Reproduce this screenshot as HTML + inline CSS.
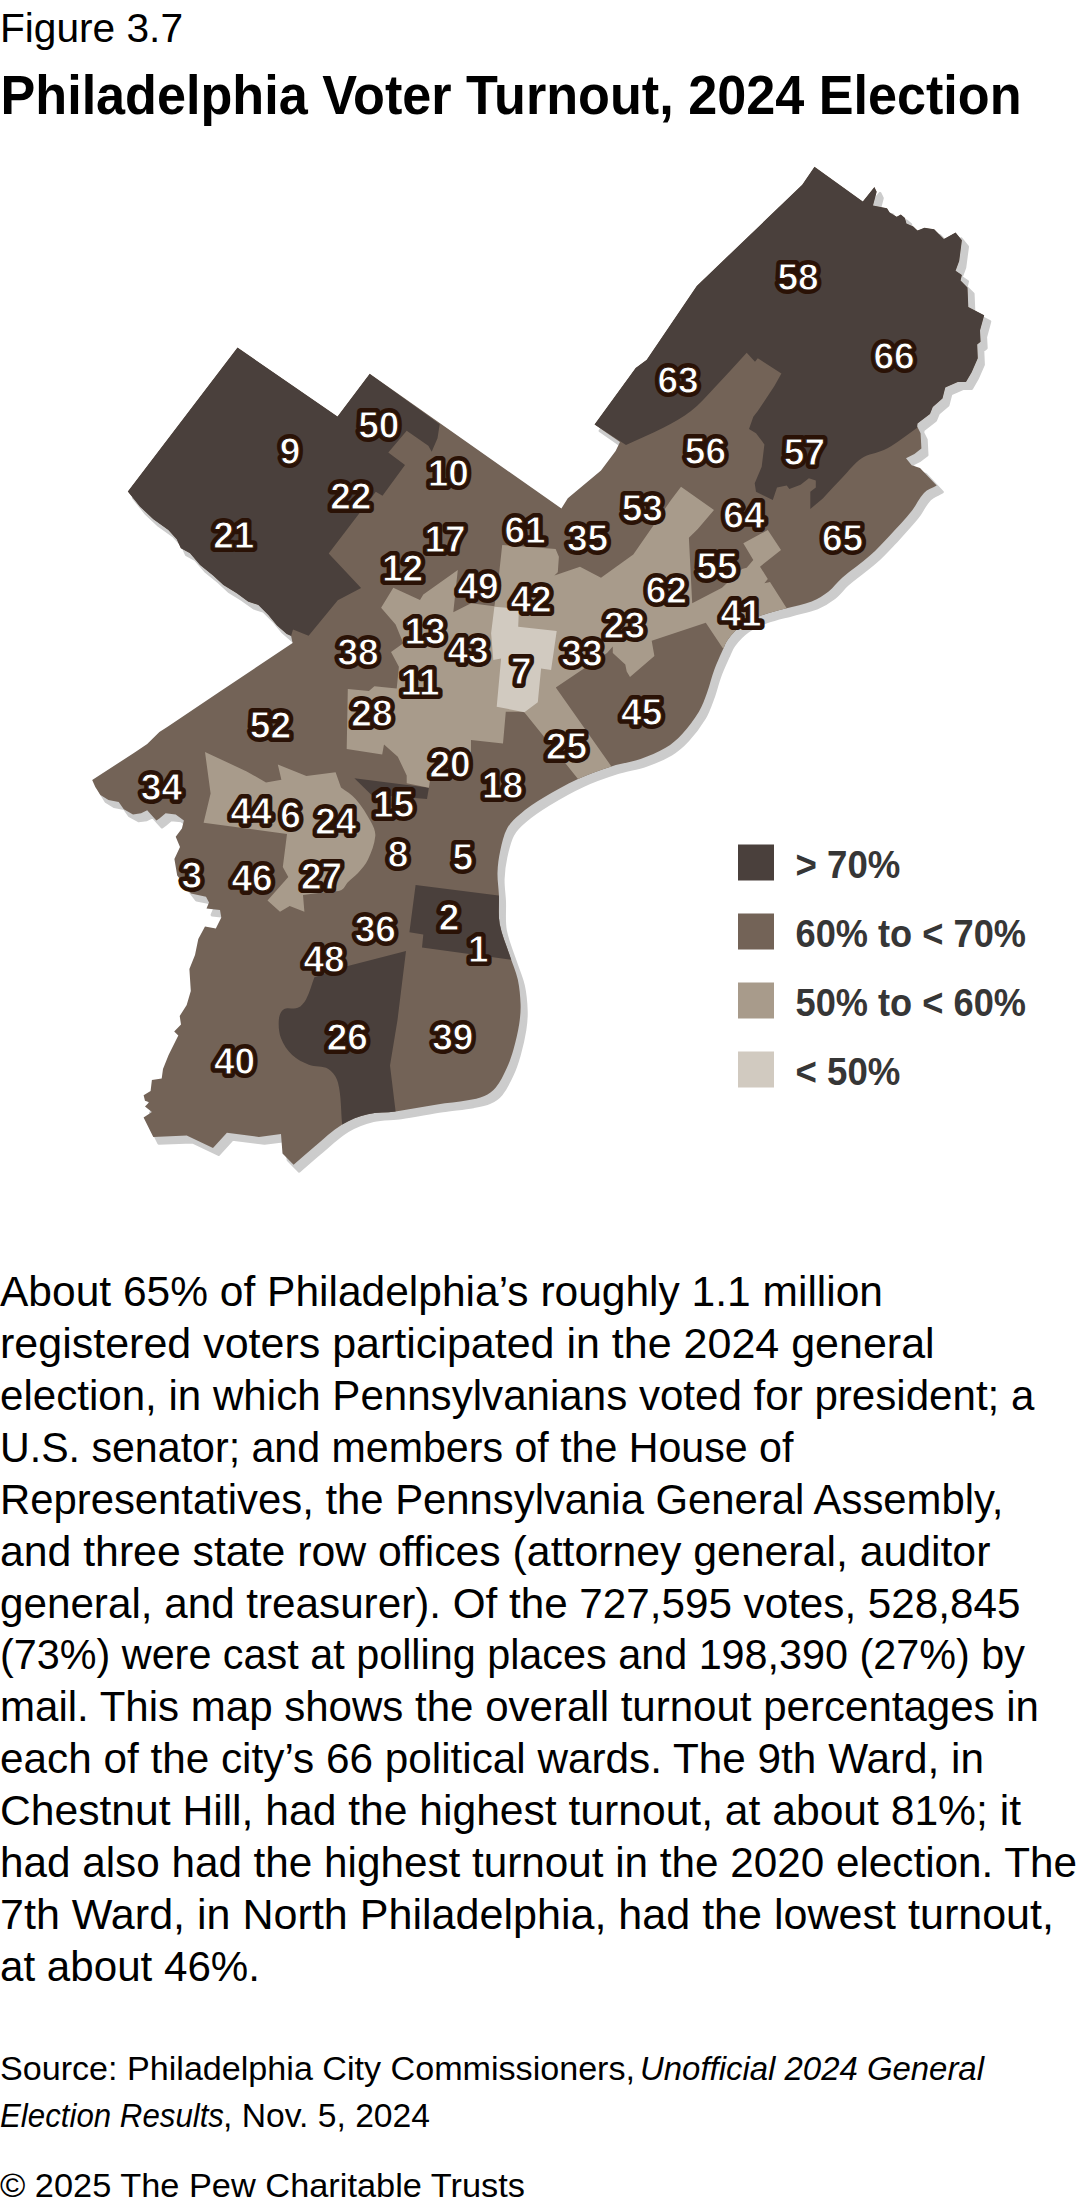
<!DOCTYPE html>
<html lang="en"><head><meta charset="utf-8"><title>Philadelphia Voter Turnout, 2024 Election</title>
<style>
html,body{margin:0;padding:0;background:#fff;}
body{width:1080px;height:2208px;position:relative;overflow:hidden;font-family:"Liberation Sans",sans-serif;}
svg{position:absolute;left:0;top:0;display:block;}
text{font-family:"Liberation Sans",sans-serif;}
.lb{font-weight:bold;font-size:37px;text-anchor:middle;}
.lb .o{fill:#2a1206;stroke:#2a1206;stroke-width:8px;stroke-linejoin:round;stroke-linecap:round;}
.lb .i{fill:#fff;stroke:#2a1206;stroke-width:1px;stroke-linejoin:round;}
.lg{font-weight:bold;font-size:38.5px;fill:#363636;}
.bd{font-size:42px;fill:#000;}
.sr{font-size:32.5px;fill:#000;}
</style></head><body>
<svg width="1080" height="2208" viewBox="0 0 1080 2208">

<path d="M127.8 491.4 L237.5 347.5 L337.5 416.5 L369.7 373.8 L561.4 508.6 L567.8 498.3 L601.0 470.6 L615.6 451.0 L620.0 442.0 L594.5 424.4 L635.6 368.0 L646.7 359.7 L696.7 286.0 L802.2 184.7 L814.5 166.7 L862.8 201.4 L874.4 187.0 L876.7 191.7 L873.0 205.6 L887.0 208.3 L889.7 212.5 L896.7 216.7 L900.8 214.4 L905.0 218.0 L906.4 223.6 L913.3 226.4 L917.5 230.6 L924.4 227.8 L934.2 229.2 L943.9 238.9 L955.6 232.5 L961.9 240.3 L959.2 261.0 L955.6 270.8 L961.9 275.0 L960.6 280.6 L967.5 287.5 L968.3 307.0 L984.2 315.3 L980.0 330.6 L980.6 341.7 L977.2 344.4 L977.8 358.3 L971.7 372.2 L966.0 382.0 L957.8 382.0 L945.3 387.5 L942.5 398.6 L932.8 407.0 L930.0 413.9 L917.5 423.6 L917.2 426.4 L920.6 433.3 L921.4 448.6 L914.4 454.0 L906.0 458.3 L911.7 465.3 L920.0 468.0 L936.7 485.6 C932.5 488.1 927.4 489.5 924.0 493.0 C918.9 498.2 916.3 505.3 911.7 511.0 C904.7 519.7 897.0 527.8 889.4 536.0 C883.1 542.7 876.9 549.5 870.0 555.6 C861.1 563.5 851.2 570.0 842.2 577.8 C837.2 582.1 833.5 587.7 828.3 591.7 C823.2 595.6 817.7 599.0 811.7 601.4 C803.7 604.6 795.0 606.0 786.7 608.3 C778.4 610.6 769.8 612.3 761.7 615.3 C754.9 617.9 748.1 620.8 742.2 625.0 C736.8 628.8 732.3 633.7 728.3 638.9 C725.6 642.3 724.3 646.6 722.5 650.6 C719.6 657.0 716.6 663.4 714.2 670.0 C711.5 677.3 709.9 684.9 707.2 692.2 C704.8 698.8 702.5 705.6 698.9 711.7 C694.1 719.6 688.5 727.1 682.2 733.9 C677.3 739.2 671.8 744.1 665.6 747.8 C657.8 752.5 649.2 755.9 640.6 758.9 C631.1 762.2 621.0 763.3 611.4 766.4 C600.1 770.0 588.8 773.9 578.0 778.9 C566.0 784.4 554.5 790.9 543.3 797.8 C535.1 802.8 527.0 808.2 519.7 814.4 C514.9 818.4 510.1 822.8 507.2 828.3 C503.5 835.2 502.0 843.0 500.3 850.6 C498.7 857.9 497.7 865.3 497.5 872.8 C497.3 880.2 498.6 887.6 498.9 895.0 C499.3 904.6 498.0 914.4 499.7 923.9 C501.6 934.4 506.1 944.3 509.4 954.4 C512.1 962.8 515.9 970.8 517.8 979.4 C519.6 987.6 520.3 996.0 520.6 1004.4 C520.8 1010.9 520.2 1017.5 519.2 1023.9 C517.9 1032.3 515.9 1040.7 513.6 1048.9 C511.7 1055.5 509.6 1062.1 506.7 1068.3 C503.6 1075.1 500.3 1082.0 495.6 1087.8 C492.7 1091.4 488.6 1094.1 484.4 1096.0 C479.2 1098.3 473.4 1099.3 467.8 1100.3 C457.7 1102.1 447.4 1102.8 437.2 1104.4 C423.3 1106.5 409.5 1109.4 395.6 1111.4 C386.4 1112.7 376.8 1112.0 367.8 1114.2 C358.9 1116.4 350.0 1119.6 342.2 1124.4 C332.1 1130.6 323.5 1139.1 314.4 1146.7 C307.3 1152.6 300.5 1158.7 293.6 1164.7 L282.5 1153.6 L281.0 1134.0 L258.9 1136.9 L226.9 1132.8 L213.0 1148.0 L186.7 1135.6 L153.3 1136.9 L143.6 1117.5 L151.9 1111.9 L145.0 1106.4 L149.2 1102.2 L145.0 1100.8 L143.6 1095.3 L150.6 1091.0 L151.9 1080.0 L161.7 1078.6 L163.0 1068.9 L168.6 1055.0 L178.3 1035.6 L174.2 1031.4 L181.0 1024.4 L179.7 1016.0 L186.7 1005.0 L190.8 991.0 L189.4 968.9 L195.0 955.0 L198.3 939.0 L205.0 926.5 L215.8 928.5 L221.3 917.5 L220.0 910.0 L206.5 908.5 L209.0 902.5 L206.0 896.7 L191.0 893.6 L177.2 875.6 L174.4 858.9 L180.0 847.0 L175.7 836.8 L181.9 828.6 L183.9 820.5 L175.7 814.4 L165.6 813.3 L159.4 818.4 L156.4 820.5 L152.3 816.0 L147.2 810.3 L141.1 813.3 L133.0 814.4 L123.8 809.3 L118.7 802.1 L108.5 800.1 L100.4 795.0 L95.3 786.9 L92.2 780.1 L135.0 752.2 L147.2 744.1 L159.4 731.9 L167.6 726.8 L218.9 692.2 L292.6 643.0 L291.1 635.9 L286.7 634.0 L276.9 625.5 L268.3 615.0 L258.3 605.0 L248.3 601.7 L236.7 593.3 L223.3 585.0 L213.3 575.8 L200.0 565.0 L190.0 553.3 L180.8 548.3 L176.7 539.2 L168.3 530.0 L153.3 519.2 L140.0 506.7Z" fill="#cccccc" stroke="#cccccc" stroke-width="3" stroke-linejoin="round" transform="translate(5.6,6.4)"/>
<path d="M127.8 491.4 L237.5 347.5 L337.5 416.5 L369.7 373.8 L561.4 508.6 L567.8 498.3 L601.0 470.6 L615.6 451.0 L620.0 442.0 L594.5 424.4 L635.6 368.0 L646.7 359.7 L696.7 286.0 L802.2 184.7 L814.5 166.7 L862.8 201.4 L874.4 187.0 L876.7 191.7 L873.0 205.6 L887.0 208.3 L889.7 212.5 L896.7 216.7 L900.8 214.4 L905.0 218.0 L906.4 223.6 L913.3 226.4 L917.5 230.6 L924.4 227.8 L934.2 229.2 L943.9 238.9 L955.6 232.5 L961.9 240.3 L959.2 261.0 L955.6 270.8 L961.9 275.0 L960.6 280.6 L967.5 287.5 L968.3 307.0 L984.2 315.3 L980.0 330.6 L980.6 341.7 L977.2 344.4 L977.8 358.3 L971.7 372.2 L966.0 382.0 L957.8 382.0 L945.3 387.5 L942.5 398.6 L932.8 407.0 L930.0 413.9 L917.5 423.6 L917.2 426.4 L920.6 433.3 L921.4 448.6 L914.4 454.0 L906.0 458.3 L911.7 465.3 L920.0 468.0 L936.7 485.6 C932.5 488.1 927.4 489.5 924.0 493.0 C918.9 498.2 916.3 505.3 911.7 511.0 C904.7 519.7 897.0 527.8 889.4 536.0 C883.1 542.7 876.9 549.5 870.0 555.6 C861.1 563.5 851.2 570.0 842.2 577.8 C837.2 582.1 833.5 587.7 828.3 591.7 C823.2 595.6 817.7 599.0 811.7 601.4 C803.7 604.6 795.0 606.0 786.7 608.3 C778.4 610.6 769.8 612.3 761.7 615.3 C754.9 617.9 748.1 620.8 742.2 625.0 C736.8 628.8 732.3 633.7 728.3 638.9 C725.6 642.3 724.3 646.6 722.5 650.6 C719.6 657.0 716.6 663.4 714.2 670.0 C711.5 677.3 709.9 684.9 707.2 692.2 C704.8 698.8 702.5 705.6 698.9 711.7 C694.1 719.6 688.5 727.1 682.2 733.9 C677.3 739.2 671.8 744.1 665.6 747.8 C657.8 752.5 649.2 755.9 640.6 758.9 C631.1 762.2 621.0 763.3 611.4 766.4 C600.1 770.0 588.8 773.9 578.0 778.9 C566.0 784.4 554.5 790.9 543.3 797.8 C535.1 802.8 527.0 808.2 519.7 814.4 C514.9 818.4 510.1 822.8 507.2 828.3 C503.5 835.2 502.0 843.0 500.3 850.6 C498.7 857.9 497.7 865.3 497.5 872.8 C497.3 880.2 498.6 887.6 498.9 895.0 C499.3 904.6 498.0 914.4 499.7 923.9 C501.6 934.4 506.1 944.3 509.4 954.4 C512.1 962.8 515.9 970.8 517.8 979.4 C519.6 987.6 520.3 996.0 520.6 1004.4 C520.8 1010.9 520.2 1017.5 519.2 1023.9 C517.9 1032.3 515.9 1040.7 513.6 1048.9 C511.7 1055.5 509.6 1062.1 506.7 1068.3 C503.6 1075.1 500.3 1082.0 495.6 1087.8 C492.7 1091.4 488.6 1094.1 484.4 1096.0 C479.2 1098.3 473.4 1099.3 467.8 1100.3 C457.7 1102.1 447.4 1102.8 437.2 1104.4 C423.3 1106.5 409.5 1109.4 395.6 1111.4 C386.4 1112.7 376.8 1112.0 367.8 1114.2 C358.9 1116.4 350.0 1119.6 342.2 1124.4 C332.1 1130.6 323.5 1139.1 314.4 1146.7 C307.3 1152.6 300.5 1158.7 293.6 1164.7 L282.5 1153.6 L281.0 1134.0 L258.9 1136.9 L226.9 1132.8 L213.0 1148.0 L186.7 1135.6 L153.3 1136.9 L143.6 1117.5 L151.9 1111.9 L145.0 1106.4 L149.2 1102.2 L145.0 1100.8 L143.6 1095.3 L150.6 1091.0 L151.9 1080.0 L161.7 1078.6 L163.0 1068.9 L168.6 1055.0 L178.3 1035.6 L174.2 1031.4 L181.0 1024.4 L179.7 1016.0 L186.7 1005.0 L190.8 991.0 L189.4 968.9 L195.0 955.0 L198.3 939.0 L205.0 926.5 L215.8 928.5 L221.3 917.5 L220.0 910.0 L206.5 908.5 L209.0 902.5 L206.0 896.7 L191.0 893.6 L177.2 875.6 L174.4 858.9 L180.0 847.0 L175.7 836.8 L181.9 828.6 L183.9 820.5 L175.7 814.4 L165.6 813.3 L159.4 818.4 L156.4 820.5 L152.3 816.0 L147.2 810.3 L141.1 813.3 L133.0 814.4 L123.8 809.3 L118.7 802.1 L108.5 800.1 L100.4 795.0 L95.3 786.9 L92.2 780.1 L135.0 752.2 L147.2 744.1 L159.4 731.9 L167.6 726.8 L218.9 692.2 L292.6 643.0 L291.1 635.9 L286.7 634.0 L276.9 625.5 L268.3 615.0 L258.3 605.0 L248.3 601.7 L236.7 593.3 L223.3 585.0 L213.3 575.8 L200.0 565.0 L190.0 553.3 L180.8 548.3 L176.7 539.2 L168.3 530.0 L153.3 519.2 L140.0 506.7Z" fill="#736357"/>
<clipPath id="c"><path d="M127.8 491.4 L237.5 347.5 L337.5 416.5 L369.7 373.8 L561.4 508.6 L567.8 498.3 L601.0 470.6 L615.6 451.0 L620.0 442.0 L594.5 424.4 L635.6 368.0 L646.7 359.7 L696.7 286.0 L802.2 184.7 L814.5 166.7 L862.8 201.4 L874.4 187.0 L876.7 191.7 L873.0 205.6 L887.0 208.3 L889.7 212.5 L896.7 216.7 L900.8 214.4 L905.0 218.0 L906.4 223.6 L913.3 226.4 L917.5 230.6 L924.4 227.8 L934.2 229.2 L943.9 238.9 L955.6 232.5 L961.9 240.3 L959.2 261.0 L955.6 270.8 L961.9 275.0 L960.6 280.6 L967.5 287.5 L968.3 307.0 L984.2 315.3 L980.0 330.6 L980.6 341.7 L977.2 344.4 L977.8 358.3 L971.7 372.2 L966.0 382.0 L957.8 382.0 L945.3 387.5 L942.5 398.6 L932.8 407.0 L930.0 413.9 L917.5 423.6 L917.2 426.4 L920.6 433.3 L921.4 448.6 L914.4 454.0 L906.0 458.3 L911.7 465.3 L920.0 468.0 L936.7 485.6 C932.5 488.1 927.4 489.5 924.0 493.0 C918.9 498.2 916.3 505.3 911.7 511.0 C904.7 519.7 897.0 527.8 889.4 536.0 C883.1 542.7 876.9 549.5 870.0 555.6 C861.1 563.5 851.2 570.0 842.2 577.8 C837.2 582.1 833.5 587.7 828.3 591.7 C823.2 595.6 817.7 599.0 811.7 601.4 C803.7 604.6 795.0 606.0 786.7 608.3 C778.4 610.6 769.8 612.3 761.7 615.3 C754.9 617.9 748.1 620.8 742.2 625.0 C736.8 628.8 732.3 633.7 728.3 638.9 C725.6 642.3 724.3 646.6 722.5 650.6 C719.6 657.0 716.6 663.4 714.2 670.0 C711.5 677.3 709.9 684.9 707.2 692.2 C704.8 698.8 702.5 705.6 698.9 711.7 C694.1 719.6 688.5 727.1 682.2 733.9 C677.3 739.2 671.8 744.1 665.6 747.8 C657.8 752.5 649.2 755.9 640.6 758.9 C631.1 762.2 621.0 763.3 611.4 766.4 C600.1 770.0 588.8 773.9 578.0 778.9 C566.0 784.4 554.5 790.9 543.3 797.8 C535.1 802.8 527.0 808.2 519.7 814.4 C514.9 818.4 510.1 822.8 507.2 828.3 C503.5 835.2 502.0 843.0 500.3 850.6 C498.7 857.9 497.7 865.3 497.5 872.8 C497.3 880.2 498.6 887.6 498.9 895.0 C499.3 904.6 498.0 914.4 499.7 923.9 C501.6 934.4 506.1 944.3 509.4 954.4 C512.1 962.8 515.9 970.8 517.8 979.4 C519.6 987.6 520.3 996.0 520.6 1004.4 C520.8 1010.9 520.2 1017.5 519.2 1023.9 C517.9 1032.3 515.9 1040.7 513.6 1048.9 C511.7 1055.5 509.6 1062.1 506.7 1068.3 C503.6 1075.1 500.3 1082.0 495.6 1087.8 C492.7 1091.4 488.6 1094.1 484.4 1096.0 C479.2 1098.3 473.4 1099.3 467.8 1100.3 C457.7 1102.1 447.4 1102.8 437.2 1104.4 C423.3 1106.5 409.5 1109.4 395.6 1111.4 C386.4 1112.7 376.8 1112.0 367.8 1114.2 C358.9 1116.4 350.0 1119.6 342.2 1124.4 C332.1 1130.6 323.5 1139.1 314.4 1146.7 C307.3 1152.6 300.5 1158.7 293.6 1164.7 L282.5 1153.6 L281.0 1134.0 L258.9 1136.9 L226.9 1132.8 L213.0 1148.0 L186.7 1135.6 L153.3 1136.9 L143.6 1117.5 L151.9 1111.9 L145.0 1106.4 L149.2 1102.2 L145.0 1100.8 L143.6 1095.3 L150.6 1091.0 L151.9 1080.0 L161.7 1078.6 L163.0 1068.9 L168.6 1055.0 L178.3 1035.6 L174.2 1031.4 L181.0 1024.4 L179.7 1016.0 L186.7 1005.0 L190.8 991.0 L189.4 968.9 L195.0 955.0 L198.3 939.0 L205.0 926.5 L215.8 928.5 L221.3 917.5 L220.0 910.0 L206.5 908.5 L209.0 902.5 L206.0 896.7 L191.0 893.6 L177.2 875.6 L174.4 858.9 L180.0 847.0 L175.7 836.8 L181.9 828.6 L183.9 820.5 L175.7 814.4 L165.6 813.3 L159.4 818.4 L156.4 820.5 L152.3 816.0 L147.2 810.3 L141.1 813.3 L133.0 814.4 L123.8 809.3 L118.7 802.1 L108.5 800.1 L100.4 795.0 L95.3 786.9 L92.2 780.1 L135.0 752.2 L147.2 744.1 L159.4 731.9 L167.6 726.8 L218.9 692.2 L292.6 643.0 L291.1 635.9 L286.7 634.0 L276.9 625.5 L268.3 615.0 L258.3 605.0 L248.3 601.7 L236.7 593.3 L223.3 585.0 L213.3 575.8 L200.0 565.0 L190.0 553.3 L180.8 548.3 L176.7 539.2 L168.3 530.0 L153.3 519.2 L140.0 506.7Z"/></clipPath><g clip-path="url(#c)">
<path d="M127.8 491.4 L237.5 347.5 L337.5 416.5 L369.7 373.8 L439.7 424.2 L437.5 438.3 L431.7 451.7 L428.3 445.8 L406.7 430.8 L388.3 452.5 L405.0 465.0 L382.5 495.8 L375.8 491.7 L328.7 553.5 L361.1 588.0 L337.8 600.3 L308.6 635.7 L293.0 629.4 L291.1 635.9 L286.7 634.0 L276.9 625.5 L268.3 615.0 L258.3 605.0 L248.3 601.7 L236.7 593.3 L223.3 585.0 L213.3 575.8 L200.0 565.0 L190.0 553.3 L180.8 548.3 L176.7 539.2 L168.3 530.0 L153.3 519.2 L140.0 506.7Z" fill="#4a403c"/>
<path d="M594.5 424.4 L635.6 368.0 L646.7 359.7 L696.7 286.0 L802.2 184.7 L814.5 166.7 L862.8 201.4 L874.4 187.0 L876.7 191.7 L873.0 205.6 L887.0 208.3 L889.7 212.5 L896.7 216.7 L900.8 214.4 L905.0 218.0 L906.4 223.6 L913.3 226.4 L917.5 230.6 L924.4 227.8 L934.2 229.2 L943.9 238.9 L955.6 232.5 L961.9 240.3 L959.2 261.0 L955.6 270.8 L961.9 275.0 L960.6 280.6 L967.5 287.5 L968.3 307.0 L984.2 315.3 L980.0 330.6 L980.6 341.7 L977.2 344.4 L977.8 358.3 L971.7 372.2 L966.0 382.0 L957.8 382.0 L945.3 387.5 L942.5 398.6 L932.8 407.0 L930.0 413.9 L917.5 423.6 L917.2 427.8 C910.7 432.4 904.4 437.3 897.8 441.7 C893.3 444.7 888.8 447.7 883.9 450.0 C876.7 453.3 868.3 453.9 861.7 458.3 C854.1 463.4 848.6 471.2 842.2 477.8 C835.6 484.6 829.3 491.7 822.8 498.6 L810.3 508.9 L810.3 491.7 L815.8 487.5 L815.8 480.6 L808.9 478.3 L800.6 484.7 L789.4 488.9 L786.7 485.6 L777.0 487.5 L772.8 500.0 L756.0 491.7 L754.7 483.3 L761.7 466.7 L764.4 444.4 L756.0 433.3 L749.0 429.0 L753.3 416.7 L757.8 411.0 L774.4 386.0 L781.4 373.6 L757.8 358.3 L755.0 361.7 L746.7 352.8 C735.6 364.8 724.6 377.1 713.3 388.9 C706.1 396.5 699.3 404.6 691.0 411.0 C682.5 417.6 672.9 422.8 663.3 427.8 C651.2 434.1 638.4 439.3 626.0 445.0Z" fill="#4a403c"/>
<path d="M415.6 885.0 L498.5 895.6 L520.0 898.0 L520.0 925.0 L530.0 962.2 L509.4 959.4 L422.0 947.5 L423.3 934.4 L409.4 932.2Z" fill="#4a403c"/>
<path d="M406.0 951.0 L347.8 966.0 L314.4 977.2 C311.6 984.6 309.8 992.4 306.0 999.4 C304.1 1002.8 301.4 1006.2 297.8 1007.8 C293.5 1009.7 287.9 1006.8 283.9 1009.2 C280.8 1011.0 279.3 1015.3 278.9 1018.9 C278.3 1025.4 278.8 1032.2 281.0 1038.3 C283.3 1044.6 287.3 1050.4 292.2 1055.0 C296.9 1059.4 302.9 1062.4 308.9 1064.7 C315.1 1067.1 322.7 1065.4 328.3 1068.9 C333.1 1071.9 336.6 1077.3 338.0 1082.8 C341.4 1096.3 340.8 1110.5 342.2 1124.4 L343.0 1145.0 L397.0 1130.0 L395.6 1111.4 L390.0 1065.6 L397.5 1020.0Z" fill="#4a403c"/>
<path d="M354.4 778.2 L428.9 787.8 L427.0 798.9 L371.0 794.4Z" fill="#4a403c"/>
<path d="M381.1 607.8 L393.3 587.8 L420.0 600.0 L423.3 594.4 L457.8 570.0 L453.3 612.2 L471.1 603.3 L494.4 606.2 L498.9 575.6 L502.2 544.9 L555.6 548.9 L558.9 556.7 L557.8 572.2 L554.4 575.6 L580.0 566.7 L601.0 577.8 L633.3 554.4 L651.0 529.0 L671.0 500.0 L681.0 486.7 L714.0 510.0 L697.8 528.9 L688.9 537.8 L692.2 603.3 L722.0 587.8 L742.0 569.0 L746.7 567.8 L753.3 560.0 L743.3 543.3 L767.8 530.0 L781.0 550.0 L760.0 566.7 L767.8 578.9 L764.4 583.3 L770.0 582.0 L786.7 608.3 L790.0 625.0 L740.0 665.0 L722.5 647.8 L705.8 622.8 L651.7 640.8 L654.4 656.0 L630.0 677.0 L626.7 671.4 L625.3 664.4 L612.8 653.0 L612.8 646.4 L607.0 653.0 L555.8 687.5 L611.4 766.4 L618.0 785.0 L585.0 795.0 L578.0 778.9 L523.9 711.7 L505.8 711.7 L503.0 743.6 L471.0 740.0 L471.0 752.0 L430.0 780.0 L428.9 787.8 L406.7 783.3 L406.7 775.6 L397.8 756.7 L384.0 744.4 L382.2 754.4 L346.7 748.9 L347.8 688.9 L368.9 691.0 L374.4 686.2 L396.7 688.4 L398.9 666.7 L391.0 652.0 L403.3 643.3 L395.6 624.4Z" fill="#a89b8b"/>
<path d="M205.0 752.0 L246.7 771.4 L266.0 782.5 L281.4 779.7 L277.8 764.4 L306.4 776.0 L335.6 772.2 L341.0 787.5 C345.9 791.3 351.6 794.2 355.6 798.9 C361.8 806.0 366.9 814.2 371.3 822.5 C373.5 826.6 375.7 831.3 375.3 836.0 C374.6 844.2 371.5 852.1 368.0 859.5 C365.6 864.7 361.6 869.0 357.8 873.3 C354.8 876.6 350.9 879.0 347.8 882.2 C345.5 884.6 344.5 888.5 341.5 890.0 C338.1 891.8 333.8 891.0 330.0 891.5 L303.0 895.0 L304.4 911.7 L289.7 906.0 L280.0 911.7 L267.5 900.6 L288.3 877.0 L282.8 867.0 L287.0 833.9 L203.6 822.8 L210.6 793.6Z" fill="#a89b8b"/>
<path d="M494.4 606.7 L518.9 608.9 L518.2 626.7 L556.7 631.1 L551.1 670.0 L541.1 668.4 L537.8 702.2 L524.4 712.2 L496.7 706.7 L501.1 658.5 L493.3 660.0 L491.1 633.3Z" fill="#d1cac0"/>
</g>
<g class="lb">
<text class="o" x="798.1" y="290.0">58</text><text class="i" x="798.1" y="290.0">58</text>
<text class="o" x="894.0" y="368.7">66</text><text class="i" x="894.0" y="368.7">66</text>
<text class="o" x="678.1" y="392.5">63</text><text class="i" x="678.1" y="392.5">63</text>
<text class="o" x="378.8" y="437.5">50</text><text class="i" x="378.8" y="437.5">50</text>
<text class="o" x="290.0" y="463.6">9</text><text class="i" x="290.0" y="463.6">9</text>
<text class="o" x="448.3" y="485.7">10</text><text class="i" x="448.3" y="485.7">10</text>
<text class="o" x="350.8" y="509.4">22</text><text class="i" x="350.8" y="509.4">22</text>
<text class="o" x="705.4" y="463.7">56</text><text class="i" x="705.4" y="463.7">56</text>
<text class="o" x="804.4" y="465.0">57</text><text class="i" x="804.4" y="465.0">57</text>
<text class="o" x="233.8" y="547.7">21</text><text class="i" x="233.8" y="547.7">21</text>
<text class="o" x="445.1" y="551.5">17</text><text class="i" x="445.1" y="551.5">17</text>
<text class="o" x="525.0" y="542.5">61</text><text class="i" x="525.0" y="542.5">61</text>
<text class="o" x="587.5" y="551.2">35</text><text class="i" x="587.5" y="551.2">35</text>
<text class="o" x="642.3" y="521.4">53</text><text class="i" x="642.3" y="521.4">53</text>
<text class="o" x="743.9" y="527.5">64</text><text class="i" x="743.9" y="527.5">64</text>
<text class="o" x="842.5" y="551.2">65</text><text class="i" x="842.5" y="551.2">65</text>
<text class="o" x="402.5" y="580.6">12</text><text class="i" x="402.5" y="580.6">12</text>
<text class="o" x="478.0" y="599.4">49</text><text class="i" x="478.0" y="599.4">49</text>
<text class="o" x="531.1" y="611.9">42</text><text class="i" x="531.1" y="611.9">42</text>
<text class="o" x="717.1" y="578.7">55</text><text class="i" x="717.1" y="578.7">55</text>
<text class="o" x="666.3" y="602.5">62</text><text class="i" x="666.3" y="602.5">62</text>
<text class="o" x="741.1" y="626.2">41</text><text class="i" x="741.1" y="626.2">41</text>
<text class="o" x="624.4" y="638.1">23</text><text class="i" x="624.4" y="638.1">23</text>
<text class="o" x="425.0" y="643.5">13</text><text class="i" x="425.0" y="643.5">13</text>
<text class="o" x="468.0" y="662.5">43</text><text class="i" x="468.0" y="662.5">43</text>
<text class="o" x="358.0" y="664.9">38</text><text class="i" x="358.0" y="664.9">38</text>
<text class="o" x="581.9" y="666.2">33</text><text class="i" x="581.9" y="666.2">33</text>
<text class="o" x="521.2" y="683.5">7</text><text class="i" x="521.2" y="683.5">7</text>
<text class="o" x="420.1" y="694.7">11</text><text class="i" x="420.1" y="694.7">11</text>
<text class="o" x="371.9" y="726.2">28</text><text class="i" x="371.9" y="726.2">28</text>
<text class="o" x="641.7" y="725.0">45</text><text class="i" x="641.7" y="725.0">45</text>
<text class="o" x="270.4" y="737.5">52</text><text class="i" x="270.4" y="737.5">52</text>
<text class="o" x="566.6" y="758.7">25</text><text class="i" x="566.6" y="758.7">25</text>
<text class="o" x="450.0" y="776.9">20</text><text class="i" x="450.0" y="776.9">20</text>
<text class="o" x="502.6" y="798.1">18</text><text class="i" x="502.6" y="798.1">18</text>
<text class="o" x="161.4" y="800.0">34</text><text class="i" x="161.4" y="800.0">34</text>
<text class="o" x="393.5" y="816.6">15</text><text class="i" x="393.5" y="816.6">15</text>
<text class="o" x="251.2" y="824.4">44</text><text class="i" x="251.2" y="824.4">44</text>
<text class="o" x="290.6" y="827.5">6</text><text class="i" x="290.6" y="827.5">6</text>
<text class="o" x="335.8" y="833.7">24</text><text class="i" x="335.8" y="833.7">24</text>
<text class="o" x="398.1" y="867.1">8</text><text class="i" x="398.1" y="867.1">8</text>
<text class="o" x="462.9" y="870.0">5</text><text class="i" x="462.9" y="870.0">5</text>
<text class="o" x="191.9" y="887.7">3</text><text class="i" x="191.9" y="887.7">3</text>
<text class="o" x="252.1" y="891.2">46</text><text class="i" x="252.1" y="891.2">46</text>
<text class="o" x="321.6" y="888.5">27</text><text class="i" x="321.6" y="888.5">27</text>
<text class="o" x="449.0" y="930.1">2</text><text class="i" x="449.0" y="930.1">2</text>
<text class="o" x="375.3" y="942.1">36</text><text class="i" x="375.3" y="942.1">36</text>
<text class="o" x="478.2" y="962.0">1</text><text class="i" x="478.2" y="962.0">1</text>
<text class="o" x="324.1" y="972.0">48</text><text class="i" x="324.1" y="972.0">48</text>
<text class="o" x="347.3" y="1049.9">26</text><text class="i" x="347.3" y="1049.9">26</text>
<text class="o" x="452.8" y="1049.9">39</text><text class="i" x="452.8" y="1049.9">39</text>
<text class="o" x="234.5" y="1073.5">40</text><text class="i" x="234.5" y="1073.5">40</text>
</g>
<rect x="738" y="844.5" width="36" height="36" fill="#4a403c"/>
<text class="lg" x="795.5" y="878.3" textLength="104.9" lengthAdjust="spacingAndGlyphs">&gt; 70%</text>
<rect x="738" y="913.5" width="36" height="36" fill="#736357"/>
<text class="lg" x="795.5" y="947.3" textLength="230.5" lengthAdjust="spacingAndGlyphs">60% to &lt; 70%</text>
<rect x="738" y="982.5" width="36" height="36" fill="#a89b8b"/>
<text class="lg" x="795.5" y="1016.3" textLength="230.5" lengthAdjust="spacingAndGlyphs">50% to &lt; 60%</text>
<rect x="738" y="1051.5" width="36" height="36" fill="#d1cac0"/>
<text class="lg" x="795.5" y="1085.3" textLength="104.9" lengthAdjust="spacingAndGlyphs">&lt; 50%</text>
<text x="0" y="41.5" font-size="40.5" fill="#000" textLength="183.0" lengthAdjust="spacingAndGlyphs">Figure 3.7</text>
<text x="0.5" y="113.6" font-size="56" font-weight="bold" fill="#000" textLength="1021.0" lengthAdjust="spacingAndGlyphs">Philadelphia Voter Turnout, 2024 Election</text>
<text class="bd" x="0" y="1306.4" textLength="883.0" lengthAdjust="spacingAndGlyphs">About 65% of Philadelphia’s roughly 1.1 million</text>
<text class="bd" x="0" y="1358.2" textLength="934.6" lengthAdjust="spacingAndGlyphs">registered voters participated in the 2024 general</text>
<text class="bd" x="0" y="1410.1" textLength="1034.4" lengthAdjust="spacingAndGlyphs">election, in which Pennsylvanians voted for president; a</text>
<text class="bd" x="0" y="1462.0" textLength="793.4" lengthAdjust="spacingAndGlyphs">U.S. senator; and members of the House of</text>
<text class="bd" x="0" y="1513.8" textLength="1003.4" lengthAdjust="spacingAndGlyphs">Representatives, the Pennsylvania General Assembly,</text>
<text class="bd" x="0" y="1565.7" textLength="990.4" lengthAdjust="spacingAndGlyphs">and three state row offices (attorney general, auditor</text>
<text class="bd" x="0" y="1617.5" textLength="1020.4" lengthAdjust="spacingAndGlyphs">general, and treasurer). Of the 727,595 votes, 528,845</text>
<text class="bd" x="0" y="1669.4" textLength="1025.0" lengthAdjust="spacingAndGlyphs">(73%) were cast at polling places and 198,390 (27%) by</text>
<text class="bd" x="0" y="1721.2" textLength="1039.0" lengthAdjust="spacingAndGlyphs">mail. This map shows the overall turnout percentages in</text>
<text class="bd" x="0" y="1773.1" textLength="984.0" lengthAdjust="spacingAndGlyphs">each of the city’s 66 political wards. The 9th Ward, in</text>
<text class="bd" x="0" y="1824.9" textLength="1021.0" lengthAdjust="spacingAndGlyphs">Chestnut Hill, had the highest turnout, at about 81%; it</text>
<text class="bd" x="0" y="1876.8" textLength="1077.0" lengthAdjust="spacingAndGlyphs">had also had the highest turnout in the 2020 election. The</text>
<text class="bd" x="0" y="1928.6" textLength="1054.0" lengthAdjust="spacingAndGlyphs">7th Ward, in North Philadelphia, had the lowest turnout,</text>
<text class="bd" x="0" y="1980.5" textLength="260.0" lengthAdjust="spacingAndGlyphs">at about 46%.</text>
<text class="sr" x="0" y="2080" textLength="635.0" lengthAdjust="spacingAndGlyphs">Source: Philadelphia City Commissioners,</text>
<text class="sr" x="640" y="2080" font-style="italic" textLength="344.0" lengthAdjust="spacingAndGlyphs">Unofficial 2024 General</text>
<text class="sr" x="0" y="2126.7" font-style="italic" textLength="224.0" lengthAdjust="spacingAndGlyphs">Election Results</text>
<text class="sr" x="223" y="2126.7" textLength="207.0" lengthAdjust="spacingAndGlyphs">, Nov. 5, 2024</text>
<text class="sr" x="0" y="2197.3" textLength="525.0" lengthAdjust="spacingAndGlyphs">© 2025 The Pew Charitable Trusts</text>
</svg></body></html>
